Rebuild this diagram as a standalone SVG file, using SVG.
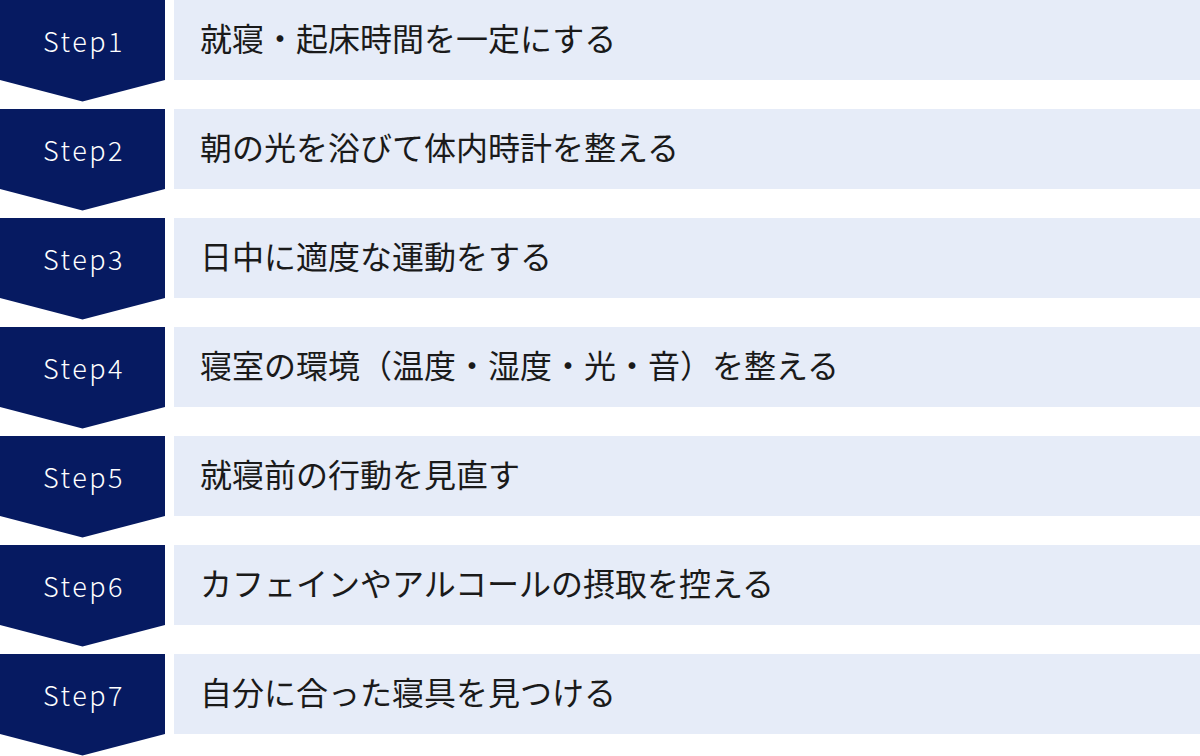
<svg xmlns="http://www.w3.org/2000/svg" width="1200" height="756" viewBox="0 0 1200 756">
<style>
.badge{fill:#061a61}
.bar{fill:#e6ecf8}
.step{font-family:"Noto Sans CJK JP","Noto Sans",sans-serif;font-size:27px;font-weight:300;fill:#ffffff;text-anchor:middle;letter-spacing:2.5px}
.label{font-family:"Noto Sans CJK JP",sans-serif;font-size:32px;fill:#1a1a1a}
</style>
<defs>
<path id="arrow" d="M0 0H165V80L82.5 101.5L0 80Z"/>
</defs>
<g id="connectors"></g>
<g id="step1" transform="translate(0,0)">
<use href="#arrow" class="badge"/><rect class="bar" x="174" y="0" width="1026" height="80"/>
<text class="step" x="84" y="52">Step1</text><text class="label" x="200" y="51">就寝・起床時間を一定にする</text>
</g>
<g id="step2" transform="translate(0,109)">
<use href="#arrow" class="badge"/><rect class="bar" x="174" y="0" width="1026" height="80"/>
<text class="step" x="84" y="52">Step2</text><text class="label" x="200" y="51">朝の光を浴びて体内時計を整える</text>
</g>
<g id="step3" transform="translate(0,218)">
<use href="#arrow" class="badge"/><rect class="bar" x="174" y="0" width="1026" height="80"/>
<text class="step" x="84" y="52">Step3</text><text class="label" x="200" y="51">日中に適度な運動をする</text>
</g>
<g id="step4" transform="translate(0,327)">
<use href="#arrow" class="badge"/><rect class="bar" x="174" y="0" width="1026" height="80"/>
<text class="step" x="84" y="52">Step4</text><text class="label" x="200" y="51">寝室の環境（温度・湿度・光・音）を整える</text>
</g>
<g id="step5" transform="translate(0,436)">
<use href="#arrow" class="badge"/><rect class="bar" x="174" y="0" width="1026" height="80"/>
<text class="step" x="84" y="52">Step5</text><text class="label" x="200" y="51">就寝前の行動を見直す</text>
</g>
<g id="step6" transform="translate(0,545)">
<use href="#arrow" class="badge"/><rect class="bar" x="174" y="0" width="1026" height="80"/>
<text class="step" x="84" y="52">Step6</text><text class="label" x="200" y="51">カフェインやアルコールの摂取を控える</text>
</g>
<g id="step7" transform="translate(0,654)">
<use href="#arrow" class="badge"/><rect class="bar" x="174" y="0" width="1026" height="80"/>
<text class="step" x="84" y="52">Step7</text><text class="label" x="200" y="51">自分に合った寝具を見つける</text>
</g>
</svg>
